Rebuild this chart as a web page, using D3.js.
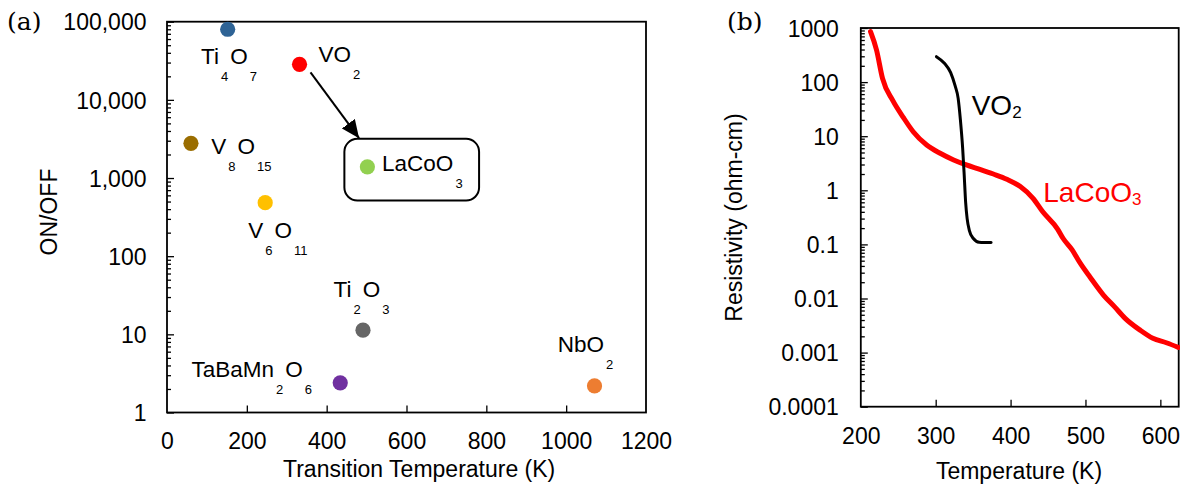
<!DOCTYPE html>
<html>
<head>
<meta charset="utf-8">
<script src="https://cdn.jsdelivr.net/npm/d3@7"></script>
<style>
  html, body { margin: 0; padding: 0; background: #fff; }
  svg { display: block; }
  text { font-family: "Liberation Sans", Arial, sans-serif; fill: #000; }
  .panel-tag { font-family: "DejaVu Serif", "Liberation Serif", serif; }
</style>
</head>
<body>
<svg id="fig" width="1180" height="486"></svg>
<script>
// ---- Panel (a): ON/OFF ratio vs transition temperature ----
const materials   = ["Ti4O7", "VO2", "V8O15", "LaCoO3", "V6O11", "Ti2O3", "TaBaMn2O6", "NbO2"];
const transitionK = [152, 332, 60, 502, 246, 491, 434, 1071];
const onOffRatio  = [80000, 28500, 2780, 1390, 483, 11.3, 2.4, 2.19];
const formulaParts = [
  [["Ti", 0], ["4", 1], ["O", 0], ["7", 1]],
  [["VO", 0], ["2", 1]],
  [["V", 0], ["8", 1], ["O", 0], ["15", 1]],
  [["LaCoO", 0], ["3", 1]],
  [["V", 0], ["6", 1], ["O", 0], ["11", 1]],
  [["Ti", 0], ["2", 1], ["O", 0], ["3", 1]],
  [["TaBaMn", 0], ["2", 1], ["O", 0], ["6", 1]],
  [["NbO", 0], ["2", 1]]
];
const xTicksA = [0, 200, 400, 600, 800, 1000, 1200];
const yTicksA = [1, 10, 100, 1000, 10000, 100000];
const yTickLabelsA = ["1", "10", "100", "1,000", "10,000", "100,000"];

// ---- Panel (b): resistivity vs temperature ----
const lacooT   = [213, 221, 229, 243, 257, 270, 288, 306, 324, 341, 359, 377, 395, 413, 430, 443, 463, 470, 482, 493, 506, 524, 539, 553, 573, 590, 608, 624];
const lacooRho = [855, 392, 117, 45, 22, 12.1, 6.87, 4.83, 3.63, 2.94, 2.44, 2.0, 1.6, 1.17, 0.71, 0.40, 0.19, 0.13, 0.08, 0.045, 0.025, 0.0116, 0.0070, 0.0043, 0.0026, 0.00184, 0.00152, 0.00125];
const vo2T     = [301, 312, 320, 326, 330, 333, 336, 338, 340, 342, 345, 350, 358, 374];
const vo2Rho   = [295, 220, 150, 85, 50, 20, 6, 2, 0.6, 0.3, 0.18, 0.13, 0.11, 0.108];
const xTicksB = [200, 300, 400, 500, 600];
const yTicksB = [0.0001, 0.001, 0.01, 0.1, 1, 10, 100, 1000];
const yTickLabelsB = ["0.0001", "0.001", "0.01", "0.1", "1", "10", "100", "1000"];

// ---- styling / layout ----
const dotColors = ["#2e6395", "#ff0000", "#9a6d00", "#92d050", "#ffc000", "#666666", "#7030a0", "#ed7d31"];
const labelOffsets = [[-26.7, 34.7], [19, -2.3], [20.3, 10.7], [14.7, 4], [-17, 35], [-29.5, -33.6], [-148.7, -6], [-36.7, -34.3]];
const TICK_FONT = 23, TITLE_FONT = 23;

const svg = d3.select("#fig");

const defs = svg.append("defs");
defs.append("marker")
  .attr("id", "arrowHead").attr("markerUnits", "userSpaceOnUse")
  .attr("viewBox", "0 0 18 16").attr("refX", 18).attr("refY", 8)
  .attr("markerWidth", 18).attr("markerHeight", 16).attr("orient", "auto")
  .append("path").attr("d", "M0,0 L18,8 L0,16 Z").attr("fill", "#000");

// Draws a chemical formula with subscripts as a single text element
function formula(g, x, y, parts, size, subSize, drop, color) {
  const t = g.append("text").attr("x", x).attr("y", y)
    .attr("font-size", size).style("fill", color || "#000");
  let lowered = false;
  parts.forEach(([s, sub]) => {
    const ts = t.append("tspan").text(s);
    if (sub) {
      ts.attr("font-size", subSize).attr("dy", lowered ? 0 : drop).attr("dx", drop > 10 ? 2 : 0);
      lowered = true;
    } else if (lowered) {
      ts.attr("dy", -drop).attr("dx", 2);
      lowered = false;
    }
  });
  return t;
}

function styleAxis(gAxis) {
  gAxis.select(".domain").remove();
  gAxis.selectAll(".tick line").attr("stroke", "#000").attr("stroke-width", 1.3);
  gAxis.selectAll(".tick text").attr("font-size", TICK_FONT).style("fill", "#000")
    .attr("font-family", "\"Liberation Sans\", Arial, sans-serif");
}

function minorValues(lo, hi) {
  const out = [];
  for (let e = Math.round(Math.log10(lo)); e < Math.round(Math.log10(hi)); e++) {
    for (let m = 2; m <= 9; m++) out.push(m * Math.pow(10, e));
  }
  return out;
}

// ================= Panel (a) =================
const xA = d3.scaleLinear().domain([0, 1200]).range([167, 646]);
const yA = d3.scaleLog().domain([1, 100000]).range([412.5, 21.7]);

const gA = svg.append("g");

const axA_x = gA.append("g").attr("transform", `translate(0,${yA.range()[0]})`)
  .call(d3.axisBottom(xA).tickValues(xTicksA).tickSize(-7).tickPadding(20.5).tickFormat(d3.format("d")));
styleAxis(axA_x);
axA_x.selectAll(".tick").filter(d => d === 0 || d === 1200).select("line").remove();

const axA_y = gA.append("g").attr("transform", `translate(${xA.range()[0]},0)`)
  .call(d3.axisLeft(yA).tickValues(yTicksA).tickSize(-7).tickPadding(20.5)
    .tickFormat(d => yTickLabelsA[yTicksA.indexOf(d)]));
styleAxis(axA_y);
axA_y.selectAll(".tick text").attr("dy", "0.36em");

const axA_ym = gA.append("g").attr("transform", `translate(${xA.range()[0]},0)`)
  .call(d3.axisLeft(yA).tickValues(minorValues(1, 100000)).tickSize(-4).tickFormat(""));
styleAxis(axA_ym);

gA.append("rect")
  .attr("x", xA.range()[0]).attr("y", yA.range()[1])
  .attr("width", xA.range()[1] - xA.range()[0]).attr("height", yA.range()[0] - yA.range()[1])
  .attr("fill", "none").attr("stroke", "#000").attr("stroke-width", 1.8);

// Box around LaCoO3 and the arrow from VO2
const iLa = materials.indexOf("LaCoO3"), iVO = materials.indexOf("VO2");
const laX = xA(transitionK[iLa]), laY = yA(onOffRatio[iLa]);
const voX = xA(transitionK[iVO]), voY = yA(onOffRatio[iVO]);
gA.append("rect")
  .attr("x", laX - 23).attr("y", laY - 28).attr("width", 134.7).attr("height", 61.7)
  .attr("rx", 13).attr("ry", 13)
  .attr("fill", "none").attr("stroke", "#000").attr("stroke-width", 2);
gA.append("line")
  .attr("x1", voX + 11).attr("y1", voY + 8)
  .attr("x2", laX - 8.3).attr("y2", laY - 28.7)
  .attr("stroke", "#000").attr("stroke-width", 2)
  .attr("marker-end", "url(#arrowHead)");

gA.selectAll("circle.pt").data(materials).join("circle")
  .attr("class", "pt")
  .attr("cx", (d, i) => xA(transitionK[i]))
  .attr("cy", (d, i) => yA(onOffRatio[i]))
  .attr("r", 7.6)
  .attr("fill", (d, i) => dotColors[i]);

materials.forEach((m, i) => {
  formula(gA, xA(transitionK[i]) + labelOffsets[i][0], yA(onOffRatio[i]) + labelOffsets[i][1],
    formulaParts[i], 22.5, 13, 17);
});

gA.append("text").attr("transform", "translate(57,212) rotate(-90)")
  .attr("text-anchor", "middle").attr("font-size", TITLE_FONT).text("ON/OFF");
gA.append("text").attr("x", 283).attr("y", 477)
  .attr("font-size", TITLE_FONT).text("Transition Temperature (K)");
gA.append("text").attr("class", "panel-tag").attr("x", 7).attr("y", 30)
  .attr("font-size", 25).text("(a)");

// ================= Panel (b) =================
const xB = d3.scaleLinear().domain([200, 624.5]).range([860.8, 1178.7]);
const yB = d3.scaleLog().domain([0.0001, 1000]).range([406.7, 28]);

const gB = svg.append("g");

const axB_x = gB.append("g").attr("transform", `translate(0,${yB.range()[0]})`)
  .call(d3.axisBottom(xB).tickValues(xTicksB).tickSize(-7).tickPadding(20.5).tickFormat(d3.format("d")));
styleAxis(axB_x);
axB_x.selectAll(".tick").filter(d => d === 200).select("line").remove();

const axB_y = gB.append("g").attr("transform", `translate(${xB.range()[0]},0)`)
  .call(d3.axisLeft(yB).tickValues(yTicksB).tickSize(-7).tickPadding(22)
    .tickFormat(d => yTickLabelsB[yTicksB.indexOf(d)]));
styleAxis(axB_y);
axB_y.selectAll(".tick text").attr("dy", "0.36em");

const axB_ym = gB.append("g").attr("transform", `translate(${xB.range()[0]},0)`)
  .call(d3.axisLeft(yB).tickValues(minorValues(0.0001, 1000)).tickSize(-4).tickFormat(""));
styleAxis(axB_ym);

gB.append("rect")
  .attr("x", xB.range()[0]).attr("y", yB.range()[1])
  .attr("width", xB.range()[1] - xB.range()[0]).attr("height", yB.range()[0] - yB.range()[1])
  .attr("fill", "none").attr("stroke", "#000").attr("stroke-width", 1.8);

const lineB = d3.line().x(d => xB(d[0])).y(d => yB(d[1])).curve(d3.curveMonotoneX);

gB.append("path")
  .datum(lacooT.map((t, i) => [t, lacooRho[i]]))
  .attr("d", lineB).attr("fill", "none")
  .attr("stroke", "#ff0000").attr("stroke-width", 5)
  .attr("stroke-linejoin", "round").attr("stroke-linecap", "round");

gB.append("path")
  .datum(vo2T.map((t, i) => [t, vo2Rho[i]]))
  .attr("d", lineB).attr("fill", "none")
  .attr("stroke", "#000").attr("stroke-width", 3)
  .attr("stroke-linejoin", "round").attr("stroke-linecap", "round");

formula(gB, 971.7, 115, [["VO", 0], ["2", 1]], 28, 17, 3, "#000");
formula(gB, 1043.3, 201.7, [["LaCoO", 0], ["3", 1]], 28, 17, 3, "#ff0000");

gB.append("text").attr("transform", "translate(741.7,217.5) rotate(-90)")
  .attr("text-anchor", "middle").attr("font-size", TITLE_FONT).text("Resistivity (ohm-cm)");
gB.append("text").attr("x", 1019).attr("y", 479).attr("text-anchor", "middle")
  .attr("font-size", TITLE_FONT).text("Temperature (K)");
gB.append("text").attr("class", "panel-tag").attr("x", 727).attr("y", 30)
  .attr("font-size", 25).text("(b)");
</script>
</body>
</html>
